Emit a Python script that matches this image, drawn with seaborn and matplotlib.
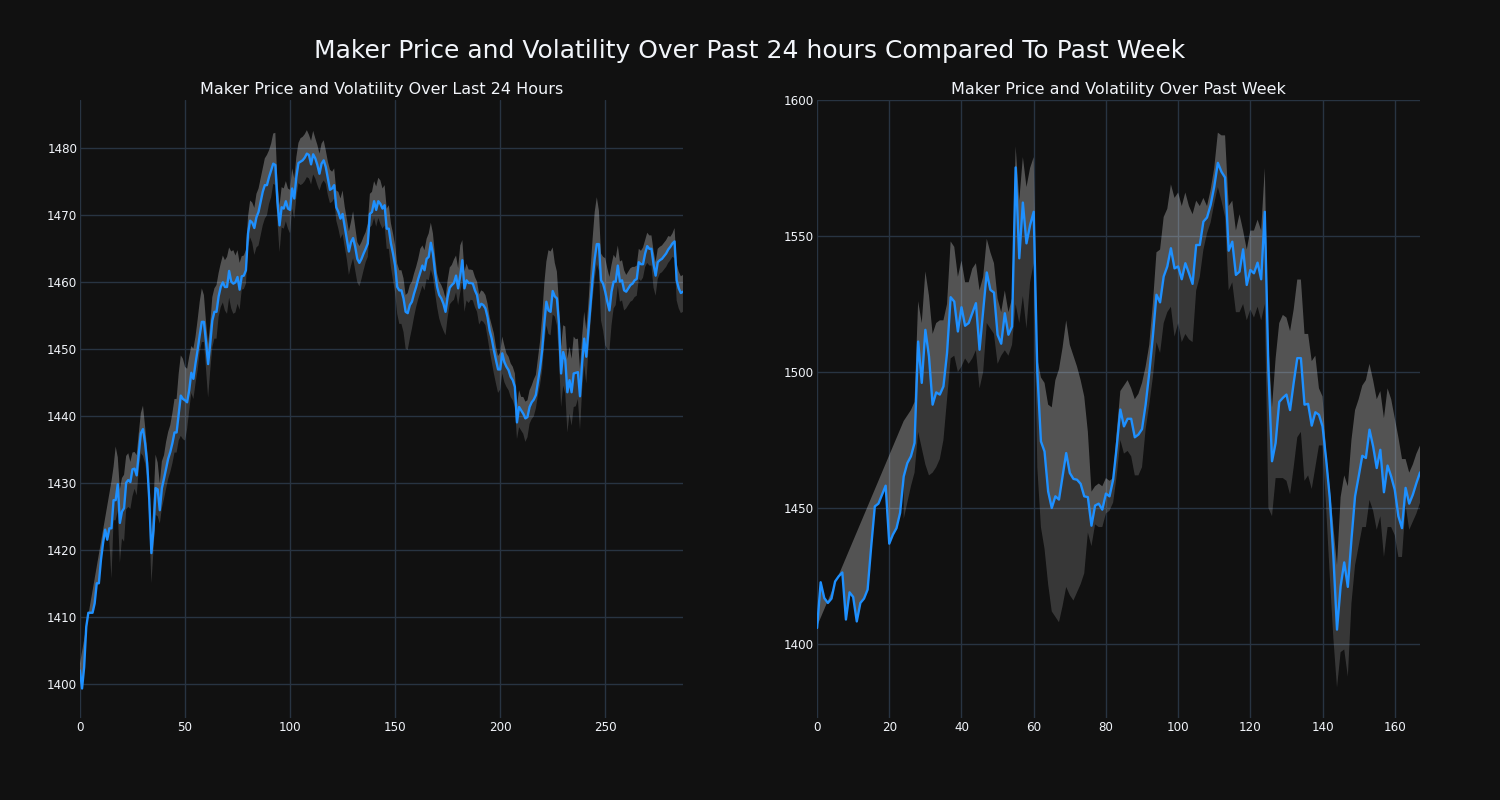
import numpy as np
import pandas as pd
import matplotlib
matplotlib.use("Agg")
import matplotlib.pyplot as plt
import seaborn as sns

nan = np.nan

# ---------------- Last 24 hours (5-minute steps) ----------------
day_price = [
    1402.0, 1399.3, 1402.5, 1408.5, 1410.6, 1410.6, 1410.6, 1412.0, 1415.0, 1415.0,
    1418.5, 1421.0, 1423.0, 1421.5, 1423.2, 1423.2, 1427.4, 1427.4, 1429.8, 1424.0,
    1425.7, 1426.2, 1430.0, 1430.4, 1430.1, 1432.0, 1432.1, 1431.1, 1434.4, 1437.4,
    1438.0, 1435.9, 1432.9, 1427.4, 1419.5, 1422.9, 1429.2, 1429.0, 1425.9, 1429.2,
    1430.6, 1432.1, 1433.6, 1434.6, 1435.9, 1437.5, 1437.5, 1440.3, 1443.0, 1442.5,
    1442.3, 1442.0, 1443.8, 1446.4, 1445.5, 1447.8, 1449.8, 1452.0, 1454.0, 1454.0,
    1451.0, 1447.7, 1450.7, 1454.2, 1455.5, 1455.5, 1457.8, 1459.2, 1459.9, 1459.2,
    1459.2, 1461.6, 1460.0, 1459.7, 1459.9, 1460.7, 1458.8, 1460.8, 1460.9, 1461.7,
    1467.2, 1469.1, 1468.8, 1468.0, 1469.6, 1470.4, 1471.9, 1473.4, 1474.4, 1474.4,
    1475.6, 1476.6, 1477.6, 1477.4, 1471.9, 1468.4, 1471.1, 1470.9, 1472.0, 1470.9,
    1470.7, 1473.9, 1472.4, 1475.6, 1477.7, 1477.9, 1478.1, 1478.5, 1479.1, 1478.9,
    1477.5, 1479.0, 1478.4, 1477.4, 1476.1, 1477.6, 1478.1, 1477.1, 1475.4, 1473.7,
    1473.9, 1474.4, 1471.1, 1470.4, 1469.4, 1470.1, 1468.2, 1466.4, 1464.5, 1465.9,
    1466.5, 1465.2, 1463.4, 1462.8, 1463.4, 1464.2, 1464.9, 1465.7, 1470.1, 1470.4,
    1472.0, 1470.7, 1472.0, 1471.6, 1470.9, 1471.4, 1467.9, 1467.9, 1465.7, 1464.2,
    1462.4, 1459.2, 1458.7, 1458.7, 1457.5, 1455.5, 1455.3, 1456.5, 1457.0, 1458.2,
    1459.2, 1460.4, 1461.4, 1462.4, 1461.7, 1463.4, 1463.7, 1465.8, 1464.2, 1461.4,
    1459.2, 1458.0, 1457.5, 1456.7, 1455.5, 1457.7, 1459.1, 1459.5, 1459.8, 1460.9,
    1459.0, 1460.9, 1463.2, 1459.0, 1460.2, 1459.8, 1459.8, 1459.7, 1458.7, 1458.0,
    1456.1, 1456.7, 1456.5, 1456.0, 1454.7, 1452.7, 1451.5, 1449.8, 1448.3, 1446.9,
    1446.9, 1449.3, 1448.0, 1447.3, 1446.8, 1445.8, 1445.3, 1444.3, 1439.0, 1441.3,
    1440.8, 1440.3, 1439.6, 1439.8, 1441.3, 1442.0, 1442.4, 1443.1, 1445.1, 1447.1,
    1449.8, 1453.7, 1457.0, 1455.7, 1455.5, 1458.6, 1457.8, 1457.5, 1453.7, 1446.3,
    1449.5, 1448.3, 1443.5, 1445.3, 1443.5, 1446.3, 1446.4, 1446.5, 1442.9, 1447.8,
    1451.5, 1448.8, 1452.7, 1456.7, 1460.4, 1463.4, 1465.6, 1465.6, 1460.2, 1459.7,
    1458.5, 1457.0, 1455.7, 1458.5, 1460.0, 1460.0, 1462.4, 1460.0, 1460.2, 1458.7,
    1458.5, 1459.0, 1459.5, 1459.7, 1460.2, 1460.4, 1462.9, 1462.6, 1462.6, 1464.2,
    1465.3, 1464.9, 1464.9, 1462.6, 1460.9, 1462.9, 1463.2, 1463.4, 1463.8, 1464.2,
    1464.8, 1465.2, 1465.7, 1466.0, 1460.2, 1459.0, 1458.3, 1458.5,
]

# volatility above / below the price (nan = not yet available)
day_vol_up = [
    1.0, nan, nan, nan, nan, nan, nan, nan, nan, nan,
    nan, nan, nan, nan, nan,
    7, 5, 8, 4, 5, 5, 5, 4, 4, 3,
    2.5, 2.5, 3, 3, 3, 3.5, 2.5, 2, 2, 2.5,
    4, 5, 4, 4, 4, 3.5, 4, 4, 4, 4.5,
    5, 5, 6, 6, 6, 5, 5, 5, 4, 4.5,
    4, 4.5, 5, 5, 4, 3, 3, 3, 3.5, 3.5,
    4, 3.5, 3.5, 4, 4, 4.5, 3.5, 4.5, 5, 4,
    4, 4, 3, 3, 3, 2.5, 3, 3, 3, 3.5,
    3.5, 3.5, 3.5, 4, 4.5, 4, 4, 4.5, 4.8, 3,
    3, 3, 3, 3, 3, 3, 3, 3, 3, 3,
    3.5, 3.5, 3.5, 3.5, 3, 3.5, 3.5, 3, 3, 3,
    3, 3, 2.5, 2.5, 3, 2.5, 2.5, 2.5, 3, 3,
    3.5, 3, 3, 3, 3, 4, 3, 2.5, 2.5, 2.5,
    2.5, 2.5, 3, 3, 3, 3, 3.5, 3.5, 3.5, 3,
    3, 3, 3.5, 3, 3, 3, 3.5, 3, 3, 3,
    2.5, 3, 3, 3, 3, 3, 3, 3.5, 3, 3,
    3, 3.5, 3, 3, 2.5, 2, 2, 2, 2, 2,
    2.5, 3, 3, 3.5, 3, 3, 4.5, 3, 2.5, 2.5,
    2, 2, 2, 2, 2, 2, 2, 2, 2, 2,
    2, 2, 2.5, 2, 2, 2.5, 2.5, 2.5, 2, 2,
    2, 2, 2, 2.5, 2.5, 2, 2.5, 2.5, 2.5, 2.5,
    2.5, 3, 3, 3.5, 4, 5, 6, 6, 9, 9,
    6.5, 5, 4, 3, 4, 4, 5, 5, 5, 5,
    5.5, 5, 5, 4, 4, 4, 4, 4, 5, 6,
    7, 7, 5, 4, 4, 5, 5, 5, 4, 4,
    3.5, 3, 3, 3, 3, 2.5, 2.5, 2.5, 2.5, 2,
    2, 2, 2, 2.5, 2, 2, 2, 2, 2, 2,
    2, 2, 2, 2, 2, 2, 1.5, 1.5, 2, 2.5,
    2.5, 2.5, 2.5,
]

day_vol_down = [
    nan, nan, nan, nan, nan, nan, nan, nan, nan, nan,
    nan, nan, nan, nan,
    2,
    7.5, 3, 3, 4, 6, 4, 5, 4, 4, 4,
    4, 3, 3, 2.5, 3, 4, 3, 2, 3, 4.5,
    3, 4, 4, 2, 3, 3, 3, 3, 3, 3,
    3, 3, 4, 6, 6, 6, 4, 3, 3, 3,
    3, 3, 2.5, 3, 3, 4, 5, 4, 4, 4,
    4, 3, 3, 3, 3.5, 4, 4, 4, 4.5, 4.5,
    4, 3, 2, 2, 2, 2, 2.5, 3, 4, 4.5,
    5, 5, 5, 5, 4.5, 4, 4, 3, 3, 3,
    4, 3, 3, 3, 3, 3.5, 3, 3, 3, 3,
    3.5, 3.5, 3.5, 3.5, 3.5, 3, 3, 3, 3, 2.5,
    3, 3, 2.5, 2.5, 2, 2, 2, 2, 2.5, 3,
    3, 3, 3, 3.5, 3.5, 3, 3.5, 3.5, 3.5, 3,
    2.5, 2, 2, 2, 2, 2.5, 2.5, 2.5, 3, 3,
    3, 3, 3, 3.5, 4, 4, 4, 5, 5, 5,
    5.5, 5.5, 5, 4, 3.5, 3, 3, 3, 3, 3,
    3, 3.5, 4, 3.5, 3, 3, 3.5, 4, 4, 3.5,
    3, 2.5, 2.5, 2.5, 2.5, 2.5, 2.5, 3, 3.5, 3,
    3, 2.5, 2.5, 2.5, 2.5, 2.5, 2.5, 2.5, 2.5, 3,
    3, 3.5, 3.5, 3.5, 3.5, 3, 3, 3, 3, 3,
    3, 3, 3, 2.5, 3, 3, 3, 3.5, 3, 2.5,
    2.5, 2.5, 2, 2, 2.5, 3, 3, 3.5, 3.5, 3.5,
    3.5, 3, 4, 5, 5, 5, 5, 6, 5, 5,
    5, 5, 4, 5, 4, 4, 4, 3, 3, 3,
    3, 3, 4, 6, 7, 8, 7, 6, 5, 4,
    3.5, 3, 3, 3, 3, 2.5, 2.5, 2.5, 2.5, 2.5,
    2.5, 2.5, 2.5, 2, 2, 2.5, 2.5, 2.5, 3.5, 3,
    2.5, 2, 2, 2, 2, 2, 2, 2, 2.5, 3,
    3, 3, 3,
]

# ---------------- Past week (hourly steps) ----------------
week_price = [
    1405.9, 1422.7, 1416.9, 1415.1, 1416.7, 1423.0, 1424.9, 1426.3, 1409.0, 1419.0,
    1417.3, 1408.3, 1415.1, 1416.7, 1420.0, 1435.9, 1450.6, 1451.6, 1454.9, 1458.2,
    1436.9, 1440.2, 1442.6, 1448.2, 1461.6, 1466.5, 1469.0, 1473.9, 1511.2, 1496.0,
    1515.5, 1505.7, 1488.0, 1492.5, 1491.7, 1494.7, 1507.0, 1527.5, 1525.9, 1514.9,
    1523.8, 1517.0, 1518.0, 1521.6, 1525.3, 1508.2, 1522.2, 1536.6, 1530.2, 1529.2,
    1513.7, 1510.4, 1521.6, 1513.7, 1516.7, 1575.2, 1541.8, 1562.3, 1547.3, 1554.0,
    1558.9, 1500.2, 1474.5, 1470.8, 1456.1, 1450.0, 1454.3, 1453.1, 1461.6, 1470.2,
    1462.9, 1460.7, 1460.4, 1458.9, 1454.3, 1454.0, 1443.5, 1450.9, 1451.6, 1449.4,
    1455.3, 1454.3, 1460.4, 1472.7, 1486.2, 1480.0, 1482.8, 1482.8, 1476.0, 1477.0,
    1479.0, 1488.0, 1499.6, 1513.1, 1528.4, 1525.6, 1535.1, 1538.8, 1545.5, 1538.1,
    1538.8, 1534.1, 1540.0, 1536.3, 1532.4, 1546.7, 1546.7, 1555.3, 1556.8, 1561.4,
    1568.1, 1576.9, 1573.6, 1571.5, 1544.6, 1547.9, 1535.7, 1536.9, 1545.1, 1532.0,
    1537.5, 1536.3, 1540.2, 1534.1, 1558.9, 1500.9, 1467.2, 1473.9, 1489.0, 1490.5,
    1491.7, 1486.0, 1496.0, 1505.1, 1505.1, 1488.0, 1488.3, 1480.3, 1485.2, 1484.3,
    1480.0, 1467.8, 1453.7, 1432.2, 1405.3, 1421.2, 1430.0, 1421.0, 1438.4, 1454.3,
    1461.6, 1469.2, 1468.4, 1478.8, 1472.7, 1464.7, 1471.4, 1455.8, 1465.6, 1461.6,
    1456.7, 1447.0, 1442.6, 1457.4, 1451.6, 1454.9, 1459.2, 1463.1,
]

week_high = [
    1406.5, nan, nan, nan, nan, nan, nan, nan, nan, nan,
    nan, nan, nan, nan, nan, nan, nan, nan, nan, nan,
    nan, nan, nan, nan, 1482, 1484, 1486, 1489, 1526, 1518,
    1537, 1528, 1514, 1518, 1519, 1519, 1525, 1548, 1546, 1535,
    1541, 1533, 1533, 1538, 1540, 1530, 1535, 1549, 1544, 1540,
    1527, 1522, 1530, 1522, 1527, 1583, 1563, 1579, 1568, 1575,
    1579, 1505, 1498, 1496, 1488, 1487, 1497, 1501, 1509, 1519,
    1510, 1506, 1502, 1497, 1491, 1478, 1456, 1458, 1459, 1458,
    1461, 1460, 1461, 1478, 1493, 1495, 1497, 1494, 1490, 1492,
    1496, 1502, 1510, 1525, 1544, 1545, 1557, 1560, 1569, 1564,
    1566, 1561, 1566, 1561, 1558, 1563, 1561, 1564, 1561, 1567,
    1575, 1588, 1587, 1587, 1561, 1563, 1552, 1558, 1552, 1545,
    1552, 1552, 1556, 1552, 1575, 1510, 1487, 1505, 1518, 1521,
    1520, 1515, 1523, 1534, 1534, 1514, 1514, 1504, 1506, 1494,
    1491, 1470, 1457, 1443, 1429, 1454, 1462, 1458, 1475, 1486,
    1490, 1495, 1497, 1503, 1497, 1490, 1493, 1483, 1494, 1490,
    1483, 1476, 1468, 1468, 1463, 1466, 1470, 1473,
]

week_low = [
    nan, nan, nan, nan, nan, nan, nan, nan, nan, nan,
    nan, nan, nan, nan, nan, nan, nan, nan, nan, nan,
    nan, nan, nan, nan, 1446, 1452, 1458, 1463, 1478, 1472,
    1466, 1462, 1463, 1465, 1468, 1475, 1490, 1505, 1506, 1500,
    1502, 1505, 1503, 1505, 1508, 1494, 1500, 1518, 1516, 1514,
    1503, 1506, 1508, 1506, 1510, 1525, 1518, 1528, 1516, 1533,
    1540, 1465, 1443, 1435, 1422, 1412, 1410, 1408, 1414, 1421,
    1418, 1416, 1419, 1422, 1426, 1441, 1436, 1444, 1443, 1443,
    1448, 1449, 1452, 1462, 1475, 1470, 1471, 1469, 1462, 1462,
    1465, 1479, 1488, 1498, 1511, 1507, 1518, 1522, 1524, 1513,
    1518, 1511, 1514, 1512, 1511, 1530, 1535, 1545, 1551, 1555,
    1562, 1568, 1563, 1557, 1530, 1533, 1522, 1522, 1525, 1519,
    1523, 1520, 1524, 1519, 1525, 1450, 1447, 1461, 1461, 1461,
    1460, 1455, 1465, 1476, 1478, 1460, 1462, 1457, 1465, 1473,
    1473, 1450, 1425, 1402, 1384, 1397, 1398, 1388, 1415, 1429,
    1436, 1443, 1443, 1453, 1449, 1442, 1447, 1432, 1443, 1443,
    1440, 1432, 1432, 1451, 1442, 1445, 1448, 1452,
]

suptitle = "Maker Price and Volatility Over Past 24 hours Compared To Past Week"
day_title = "Maker Price and Volatility Over Last 24 Hours"
week_title = "Maker Price and Volatility Over Past Week"
day_xticks = [0, 50, 100, 150, 200, 250]
day_yticks = [1400, 1410, 1420, 1430, 1440, 1450, 1460, 1470, 1480]
week_xticks = [0, 20, 40, 60, 80, 100, 120, 140, 160]
week_yticks = [1400, 1450, 1500, 1550, 1600]

# ---------------- style ----------------
BG = "#111111"
GRID = "#283442"
TXT = "#f2f5fa"
LINE = "#1e90ff"

sns.set_style("dark", {"axes.facecolor": BG, "figure.facecolor": BG,
                       "grid.color": GRID, "text.color": TXT,
                       "xtick.color": TXT, "ytick.color": TXT})
plt.rcParams["font.family"] = ["DejaVu Sans"]

fig = plt.figure(figsize=(15, 8), dpi=100, facecolor=BG)
ax1 = fig.add_axes([0.0533, 0.1025, 0.402, 0.7725])
ax2 = fig.add_axes([0.5447, 0.1025, 0.402, 0.7725])


def draw(ax, price, high, low, title, xlim, ylim, xticks, yticks):
    price = np.asarray(price, float)
    high = np.asarray(high, float)
    low = np.asarray(low, float)
    x = np.arange(len(price))

    # band above the price
    hv = ~np.isnan(high)
    ax.fill(np.concatenate([x[hv], x[::-1]]),
            np.concatenate([high[hv], price[::-1]]),
            color="white", alpha=0.28, lw=0, zorder=1)
    # band below the price
    lv = ~np.isnan(low)
    first = int(np.argmax(lv))
    ax.fill(np.concatenate([x[first:], x[lv][::-1]]),
            np.concatenate([price[first:], low[lv][::-1]]),
            color="white", alpha=0.16, lw=0, zorder=1)

    df = pd.DataFrame({"step": x, "price": price})
    sns.lineplot(data=df, x="step", y="price", ax=ax, color=LINE,
                 linewidth=1.7, zorder=3)

    ax.set_xlim(*xlim)
    ax.set_ylim(*ylim)
    ax.set_xticks(xticks)
    ax.set_yticks(yticks)
    ax.set_xlabel("")
    ax.set_ylabel("")
    ax.grid(True, color=GRID, linewidth=1)
    ax.set_axisbelow(True)
    for s in ax.spines.values():
        s.set_visible(False)
    ax.tick_params(length=0, labelsize=8.6, labelcolor=TXT, pad=2)
    ax.set_title(title, color=TXT, fontsize=11.5, pad=4)


draw(ax1, day_price, np.asarray(day_price) + np.asarray(day_vol_up, float),
     np.asarray(day_price) - np.asarray(day_vol_down, float),
     day_title, (0, 287), (1394.9, 1487.1), day_xticks, day_yticks)
draw(ax2, week_price, week_high, week_low, week_title,
     (0, 167), (1372.8, 1600), week_xticks, week_yticks)

fig.text(0.5, 0.9365, suptitle, ha="center", va="center",
         fontsize=18, color=TXT)

fig.savefig("out.png", dpi=100, facecolor=BG)
